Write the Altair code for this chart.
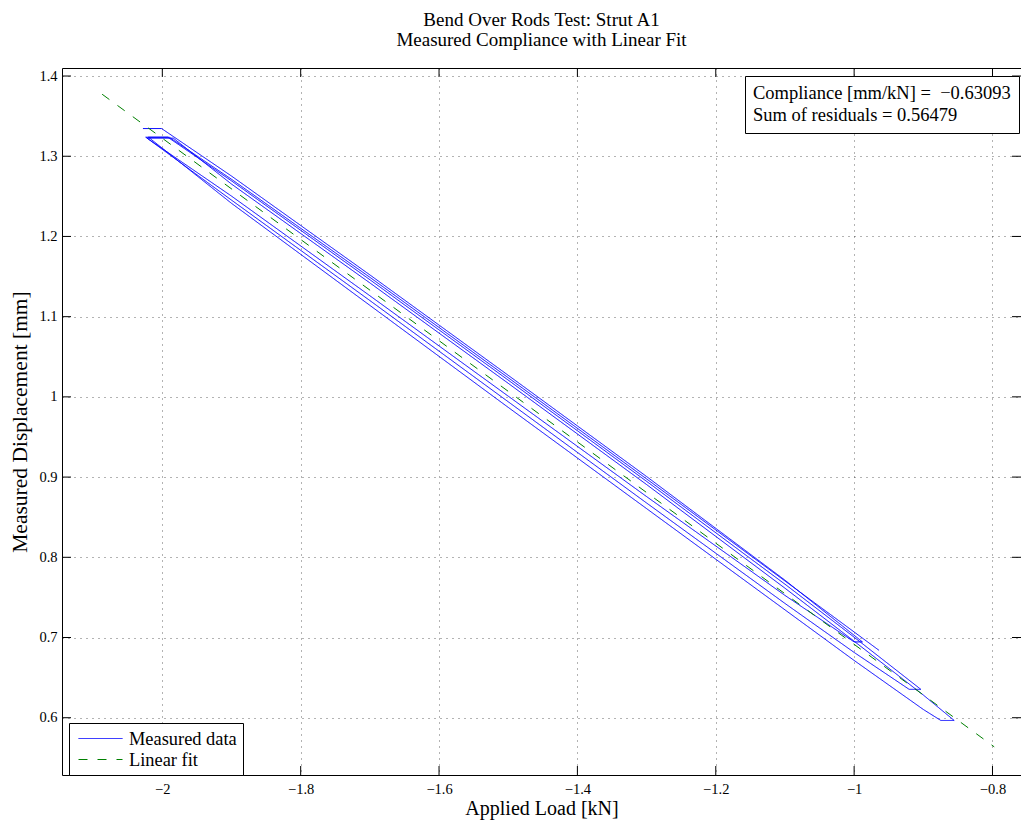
import altair as alt
import pandas as pd

# ---------------- data ----------------
meas_load = [
    -2.028, -2.001,
    -1.9, -1.7, -1.5, -1.3, -1.1, -0.988,
    -1.000,
    -1.1, -1.3, -1.5, -1.7, -1.9, -2.024,
    -1.992,
    -1.9, -1.7, -1.5, -1.3, -1.1, -1.0, -0.9036,
    -0.9205,
    -1.0, -1.1, -1.3, -1.5, -1.7, -1.9, -2.022,
    -1.984,
    -1.9, -1.7, -1.5, -1.3, -1.1, -1.0, -0.9, -0.8554,
    -0.8747,
    -0.9, -1.0, -1.1, -1.3, -1.5, -1.7, -1.9, -2.02,
    -1.99,
    -1.9, -1.7, -1.5, -1.3, -1.1, -0.964,
]
meas_disp = [
    1.3345, 1.3345,
    1.2753, 1.1521, 1.0269, 0.9007, 0.7715, 0.6945,
    0.6945,
    0.7525, 0.8757, 1.0009, 1.1261, 1.2503, 1.3237,
    1.3237,
    1.2693, 1.1461, 1.0209, 0.8947, 0.7665, 0.7004, 0.6354,
    0.6354,
    0.6814, 0.7425, 0.8677, 0.9939, 1.1201, 1.2453, 1.3225,
    1.3225,
    1.2653, 1.1421, 1.0169, 0.8907, 0.7615, 0.6954, 0.6283, 0.5966,
    0.5966,
    0.6103, 0.6714, 0.7345, 0.8607, 0.9869, 1.1141, 1.2413, 1.3237,
    1.3237,
    1.2713, 1.1491, 1.0239, 0.8977, 0.7705, 0.684,
]
fit_load = [-2.087, -0.7975]
fit_disp = [1.3773, 0.5637]

x_ticks = [-2.0, -1.8, -1.6, -1.4, -1.2, -1.0, -0.8]
y_ticks = [0.6, 0.7, 0.8, 0.9, 1.0, 1.1, 1.2, 1.3, 1.4]

series_names = ["Measured data", "Linear fit"]
series_colors = ["#0000ff", "#008000"]
stats_text = ["Compliance [mm/kN] =\u00a0 \u22120.63093", "Sum of residuals = 0.56479"]
title_lines = ["Bend Over Rods Test: Strut A1", "Measured Compliance with Linear Fit"]
x_title = "Applied Load [kN]"
y_title = "Measured Displacement [mm]"

# ---------------- layout / style ----------------
W, H = 959, 707
TL = 9
FONT = "Liberation Serif"

meas_df = pd.DataFrame({"load": meas_load, "disp": meas_disp,
                        "order": list(range(len(meas_load))), "series": series_names[0]})
fit_df = pd.DataFrame({"load": fit_load, "disp": fit_disp,
                       "order": list(range(len(fit_load))), "series": series_names[1]})
lines_df = pd.concat([meas_df, fit_df], ignore_index=True)

xscale = alt.Scale(domain=[-2.145, -0.7588], nice=False, zero=False)
yscale = alt.Scale(domain=[0.5286, 1.41], nice=False, zero=False)

grid_kw = dict(grid=True, gridDash=[1, 5], gridColor="#000000", gridOpacity=0.6, gridWidth=1)
xaxis = alt.Axis(values=x_ticks, format="~g", ticks=False, domain=False, labelFlush=False,
                 labelFont=FONT, labelFontSize=14.5, labelColor="black", labelPadding=7,
                 title=x_title, titleFont=FONT, titleFontSize=20, titleFontWeight="normal",
                 titleColor="black", titlePadding=3, **grid_kw)
yaxis = alt.Axis(values=y_ticks, format="~g", ticks=False, domain=False, labelFlush=False,
                 labelFont=FONT, labelFontSize=14.5, labelColor="black", labelPadding=5,
                 title=y_title, titleFont=FONT, titleFontSize=21.5, titleFontWeight="normal",
                 titleColor="black", titlePadding=7, **grid_kw)

X = alt.X("load:Q", scale=xscale, axis=xaxis)
Y = alt.Y("disp:Q", scale=yscale, axis=yaxis)

leg = alt.Legend(title=None, orient="none", legendX=7, legendY=655, fillColor="white",
                 strokeColor="black", padding=6, symbolType="stroke", symbolSize=1936,
                 symbolStrokeWidth=1, symbolOffset=3, labelOffset=6, labelFont=FONT,
                 labelFontSize=18.4, labelColor="black", labelLimit=400, rowPadding=2,
                 clipHeight=19)

lines = alt.Chart(lines_df).mark_line(strokeWidth=1).encode(
    x=X, y=Y, order="order:Q",
    color=alt.Color("series:N", scale=alt.Scale(domain=series_names, range=series_colors), legend=leg),
    strokeDash=alt.StrokeDash("series:N", scale=alt.Scale(domain=series_names, range=[[1, 0], [9, 10]]), legend=leg),
)

xt_df = pd.DataFrame({"load": x_ticks})
yt_df = pd.DataFrame({"disp": y_ticks})
xt_bottom = alt.Chart(xt_df).mark_rule(color="black", strokeWidth=1).encode(
    x=X, y=alt.value(H), y2=alt.value(H - TL))
xt_top = alt.Chart(xt_df).mark_rule(color="black", strokeWidth=1).encode(
    x=X, y=alt.value(0), y2=alt.value(TL))
yt_left = alt.Chart(yt_df).mark_rule(color="black", strokeWidth=1).encode(
    y=Y, x=alt.value(0), x2=alt.value(TL))
yt_right = alt.Chart(yt_df).mark_rule(color="black", strokeWidth=1).encode(
    y=Y, x=alt.value(W), x2=alt.value(W - TL))

# text box in the upper right: a legend whose (two-line) title carries the fit statistics
stats_df = pd.DataFrame({"stat": ["fit statistics"]})
stats = alt.Chart(stats_df).mark_point(opacity=0).encode(
    x=alt.value(0), y=alt.value(0),
    shape=alt.Shape("stat:N",
                    legend=alt.Legend(title=stats_text, orient="none", legendX=683, legendY=8,
                                      fillColor="white", strokeColor="black", padding=8,
                                      titleFont=FONT, titleFontSize=18.5, titleFontWeight="normal",
                                      titleColor="black", titleLineHeight=22, titleLimit=500,
                                      titleAnchor="start", titleAlign="left", titlePadding=0,
                                      symbolSize=0, symbolOpacity=0, symbolStrokeWidth=0,
                                      labelFontSize=1, labelOpacity=0, labelOffset=0,
                                      labelExpr="''")),
)

chart = alt.layer(lines, xt_bottom, xt_top, yt_left, yt_right, stats).properties(
    width=W, height=H,
    title=alt.TitleParams(text=title_lines, font=FONT, fontSize=19, fontWeight="normal",
                          color="black", anchor="middle", offset=15, lineHeight=20),
    autosize=alt.AutoSizeParams(type="none"),
    padding={"left": 54, "top": 60, "right": 0, "bottom": 45},
).configure(font=FONT).configure_view(stroke="black", strokeWidth=1)

chart.save("out.html", embed_options={"renderer": "svg", "actions": False})
